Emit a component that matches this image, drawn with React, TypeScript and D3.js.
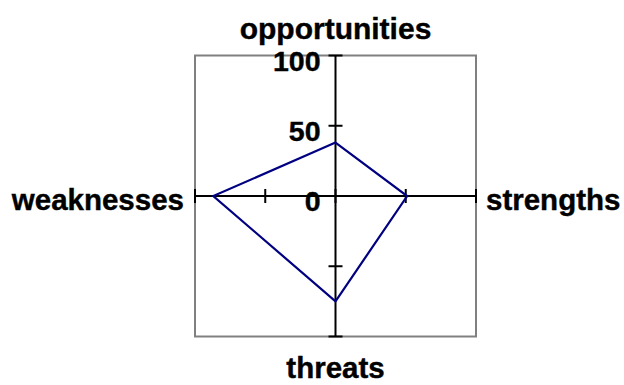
import React from 'react';
import * as d3 from 'd3';

// SWOT radar values (0..100), clockwise from top
const categories = ['opportunities', 'strengths', 'threats', 'weaknesses'];
const values = [38, 51, 75, 87];
const tickValues = [-100, -50, 0, 50, 100];
const tickLabels = ['', '', '0', '50', '100'];

const width = 624;
const height = 385;
const cx = 335.5;
const cy = 196;
const r = 140.5;
const font = 'Arial, "Liberation Sans", Helvetica, sans-serif';

const App = () => {
  const xScale = d3.scaleLinear().domain([-100, 100]).range([cx - r, cx + r]);
  const yScale = d3.scaleLinear().domain([-100, 100]).range([cy + r, cy - r]);

  // direction of each spoke: up, right, down, left
  const dirs = [[0, 1], [1, 0], [0, -1], [-1, 0]];
  const pts = values.map((v, i) => [xScale(dirs[i][0] * v), yScale(dirs[i][1] * v)] as [number, number]);
  const line = d3.line().curve(d3.curveLinearClosed);

  const tick = 7;
  const textProps = { fontFamily: font, fontWeight: 'bold', stroke: '#000', strokeWidth: 0.4 };

  return (
    <svg width={width} height={height} style={{ position: 'absolute', left: 0, top: 0 }}>
      <rect x={0} y={0} width={width} height={height} fill="#fff" />
      {/* plot frame */}
      <rect x={xScale(-100)} y={yScale(100)} width={xScale(100) - xScale(-100)} height={yScale(-100) - yScale(100)}
        fill="none" stroke="#808080" strokeWidth={2} />

      {/* axes */}
      <line x1={xScale(-100)} x2={xScale(100)} y1={cy} y2={cy} stroke="#000" strokeWidth={2} />
      <line x1={cx} x2={cx} y1={yScale(100)} y2={yScale(-100)} stroke="#000" strokeWidth={2} />
      {tickValues.map(t => (
        <g key={'t' + t}>
          <line x1={cx - tick} x2={cx + tick} y1={yScale(t)} y2={yScale(t)} stroke="#000" strokeWidth={2} />
          <line x1={xScale(t)} x2={xScale(t)} y1={cy - tick} y2={cy + tick} stroke="#000" strokeWidth={2} />
        </g>
      ))}
      {tickValues.map((t, i) => tickLabels[i] ? (
        <text key={'l' + t} x={cx - 15} y={yScale(t) + 15} textAnchor="end" fontSize={28.5} {...textProps}>{tickLabels[i]}</text>
      ) : null)}

      {/* data polygon */}
      <path d={line(pts) || ''} fill="none" stroke="#000080" strokeWidth={2.2} strokeLinejoin="miter" />

      {/* category labels */}
      <text x={cx} y={39} textAnchor="middle" fontSize={30} {...textProps}>{categories[0]}</text>
      <text x={xScale(100) + 10} y={210} textAnchor="start" fontSize={29.5} {...textProps}>{categories[1]}</text>
      <text x={cx} y={378} textAnchor="middle" fontSize={29.5} {...textProps}>{categories[2]}</text>
      <text x={xScale(-100) - 11} y={210} textAnchor="end" fontSize={29.5} {...textProps}>{categories[3]}</text>
    </svg>
  );
};

export default App;
